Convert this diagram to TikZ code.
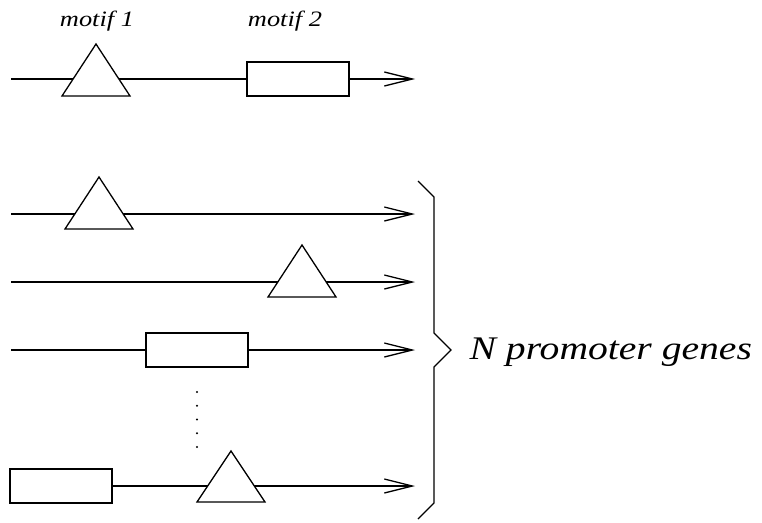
\documentclass[tikz,border=0pt]{standalone}
\usepackage{fontspec}
\usetikzlibrary{arrows.meta}
\newfontfamily\labelfont[FakeStretch=1.2]{Liberation Serif}

\begin{document}
\begin{tikzpicture}
        [
            x = 1pt, y = -1pt,
            line width = 1.3pt,
            gene/.style = {-{Straight Barb[length=28pt, width=14pt]}},
            motifbox/.style = {draw, fill = white, rectangle, minimum width = 102pt, minimum height = 34pt, inner sep = 0pt},
            motiftri/.style = {draw, fill = white, line join = miter},
            small/.style = {font = \labelfont\itshape\fontsize{22}{25}\selectfont, inner sep = 0pt},
            big/.style = {font = \labelfont\itshape\fontsize{33}{36}\selectfont, inner sep = 0pt}
        ]

        \useasboundingbox (0,0) rectangle (762,522);

        % example gene with both motifs
        \coordinate (s0) at (11,79);
        \coordinate (e0) at (415,79);
        \draw[gene] (s0) -- (e0);
        \draw[motiftri] (96,44) -- (130,96) -- (62,96) -- cycle;
        \node[motifbox] (box0) at (298,79) {};
        \node[small, anchor = base] (motifa) at (97,27) {motif 1};
        \node[small, anchor = base] (motifb) at (285,27) {motif 2};

        % the N promoter genes
        \coordinate (s1) at (11,214);
        \coordinate (e1) at (415,214);
        \coordinate (s2) at (11,282);
        \coordinate (e2) at (415,282);
        \coordinate (s3) at (11,350);
        \coordinate (e3) at (415,350);
        \coordinate (s4) at (11,486);
        \coordinate (e4) at (415,486);
        \draw[gene] (s1) -- (e1);
        \draw[gene] (s2) -- (e2);
        \draw[gene] (s3) -- (e3);
        \draw[gene] (s4) -- (e4);

        \draw[motiftri] (99,177) -- (133,229) -- (65,229) -- cycle;
        \draw[motiftri] (302,245) -- (336,297) -- (268,297) -- cycle;
        \node[motifbox] (box3) at (197,350) {};
        \node[motifbox] (box4) at (61,486) {};
        \draw[motiftri] (231,451) -- (265,502) -- (197,502) -- cycle;

        % dots
        \foreach \i in {0,...,4}
            \fill (197,{392+13.75*\i}) circle (1.2pt);

        % brace
        \draw (418,181) -- (434,197) -- (434,333) -- (451,350) -- (434,367) -- (434,503) -- (418,519);
        \node[big, anchor = base west] (ngenes) at (469,359) {N promoter genes};
    \end{tikzpicture}
\end{document}
